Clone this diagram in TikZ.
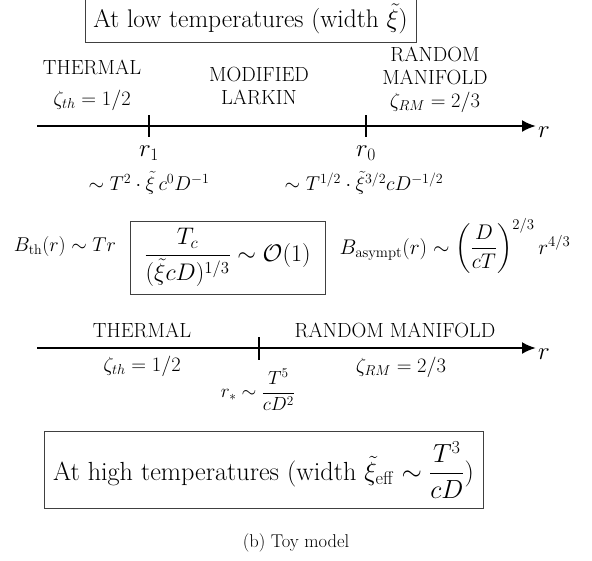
\documentclass[tikz,border=0pt]{standalone}
\usepackage{fix-cm}
\usepackage{amsmath}
\usetikzlibrary{arrows.meta}
\tikzset{
  fbox/.style={font=\fontsize{25.5}{30}\selectfont},
  fboxb/.style={font=\fontsize{26.2}{30}\selectfont},
  frr/.style={font=\fontsize{25}{30}\selectfont},
  fmid/.style={font=\fontsize{24}{28}\selectfont},
  fnorm/.style={font=\fontsize{20.5}{23}\selectfont},
  fform/.style={font=\fontsize{20}{24}\selectfont},
  fbth/.style={font=\fontsize{20}{24}\selectfont},
  fbas/.style={font=\fontsize{21.2}{24}\selectfont},
  fstar/.style={font=\fontsize{19}{22}\selectfont},
  fcap/.style={font=\fontsize{18.5}{22}\selectfont},
  framebox/.style={draw=black!75, line width=1pt, inner sep=0pt},
  axis/.style={line width=2.3pt, -{Latex[length=14pt,width=12pt]}},
  tick/.style={line width=2pt},
}
\begin{document}
\begin{tikzpicture}[x=1pt,y=-1pt]
\useasboundingbox (0,0) rectangle (592,560);
% top box
\node[framebox, fbox, minimum width=331, minimum height=46] (lowbox) at (250.5,19) {At low temperatures (width $\tilde{\xi}$)};
% top axis
\coordinate (a1s) at (37,126);
\coordinate (a1e) at (536,126);
\draw[axis] (a1s) -- (a1e);
\node[frr] (r1lab) at (544,132) {$r$};
\coordinate (t1a) at (149,115); \coordinate (t1b) at (149,137);
\coordinate (t0a) at (366,115); \coordinate (t0b) at (366,137);
\draw[tick] (t1a) -- (t1b);
\draw[tick] (t0a) -- (t0b);
\node[fnorm] (th1) at (92,67) {THERMAL};
\node[fnorm] (zth1) at (92,100) {$\zeta_{th}=1/2$};
\node[fnorm, align=center] (ml) at (259,86) {MODIFIED\\LARKIN};
\node[fnorm, align=center] (rm1) at (435,66) {RANDOM\\MANIFOLD};
\node[fnorm] (zrm1) at (435,102) {$\zeta_{RM}=2/3$};
\node[frr] (rone) at (149,153) {$r_1$};
\node[frr] (rzero) at (366,153) {$r_0$};
\node[fform] (f1) at (149,183) {$\sim T^2\cdot\tilde{\xi}\,c^0D^{-1}$};
\node[fform] (f0) at (364,183) {$\sim T^{1/2}\cdot\tilde{\xi}^{3/2}cD^{-1/2}$};
% middle row
\node[fbth] (bth) at (65,246) {$B_{\mathrm{th}}(r)\sim Tr$};
\node[framebox, fmid, minimum width=195, minimum height=73] (midbox) at (227.5,257.5) {$\dfrac{T_c}{(\tilde{\xi}cD)^{1/3}}\sim\mathcal{O}(1)$};
\node[fbas] (bas) at (455,246) {$B_{\mathrm{asympt}}(r)\sim\left(\dfrac{D}{cT}\right)^{2/3}r^{4/3}$};
% lower axis
\coordinate (a2s) at (37,348);
\coordinate (a2e) at (536,348);
\draw[axis] (a2s) -- (a2e);
\node[frr] (r2lab) at (544,354) {$r$};
\coordinate (tsa) at (259,337); \coordinate (tsb) at (259,360);
\draw[tick] (tsa) -- (tsb);
\node[fnorm] (th2) at (142,330) {THERMAL};
\node[fnorm] (rm2) at (395,330) {RANDOM MANIFOLD};
\node[fnorm] (zth2) at (142,366) {$\zeta_{th}=1/2$};
\node[fnorm] (zrm2) at (401,367) {$\zeta_{RM}=2/3$};
\node[fstar] (rstar) at (258,390) {$r_*\sim\dfrac{T^5}{cD^2}$};
% bottom box
\node[framebox, fboxb, minimum width=439, minimum height=77] (highbox) at (263.5,470) {At high temperatures (width $\tilde{\xi}_{\mathrm{eff}}\sim\dfrac{T^3}{cD}$)};
% caption
\node[fcap] (cap) at (296,543) {(b) Toy model};
\end{tikzpicture}
\end{document}
